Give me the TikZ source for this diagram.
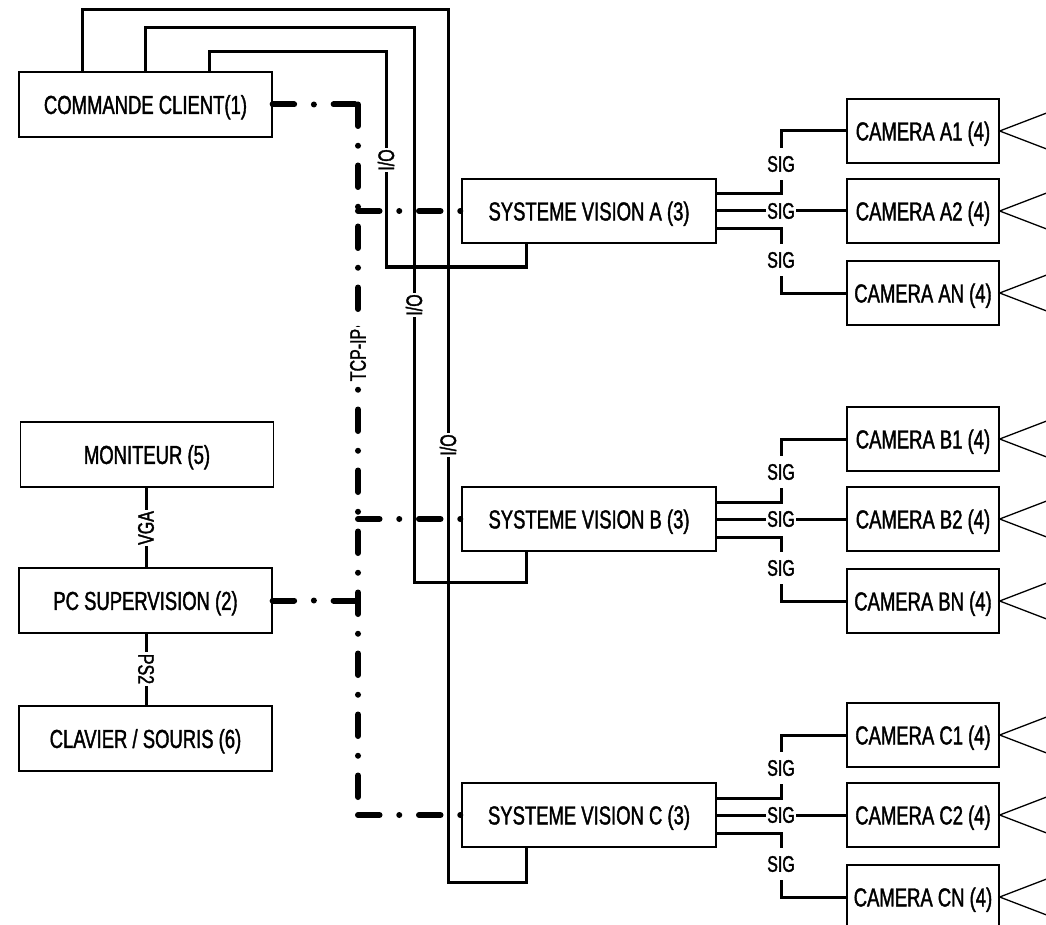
\documentclass[tikz,border=0pt]{standalone}
\usepackage{fontspec}
\setmainfont{Liberation Sans}[FakeStretch=0.71,FakeBold=1.5]
\usetikzlibrary{calc}
\begin{document}
\begin{tikzpicture}[x=1pt,y=-1pt,
  box/.style={draw, line width=1.3pt, minimum width=253pt, minimum height=65pt,
    inner sep=0pt, text depth=0pt, font=\fontsize{26}{30}\selectfont},
  svbox/.style={box, minimum width=254pt, minimum height=64pt},
  cambox/.style={box, minimum width=152pt, minimum height=64pt},
  wire/.style={line width=3pt},
  tcp/.style={line width=6pt, line cap=round, dash pattern=on 21.5pt off 19.75pt on 0pt off 19.75pt},
  lbl/.style={fill=white, inner xsep=1.5pt, inner ysep=0.5pt, font=\fontsize{22.5}{26}\selectfont},
  siglbl/.style={lbl, inner ysep=8pt},
  lens/.style={line width=1.3pt}]
\useasboundingbox (0,0) rectangle (1046,925);
\clip (0,0) rectangle (1046,925);

% left column
\node[box] (cmd)  at (145.5,104.5) {COMMANDE CLIENT(1)};
\node[box] (mon)  at (147,454.5) {MONITEUR (5)};
\node[box] (pc)   at (145.5,600.5) {PC SUPERVISION (2)};
\node[box] (clav) at (145.5,738.5) {CLAVIER / SOURIS (6)};

% systems and cameras
\coordinate (sigx) at (781,0);
\foreach \sys/\yc in {A/211,B/519,C/815}{
  \node[svbox] (sv\sys) at (589,\yc) {SYSTEME VISION \sys{} (3)};
  \node[cambox] (cam\sys1) at (923,\yc-80) {CAMERA \sys1 (4)};
  \node[cambox] (cam\sys2) at (923,\yc) {CAMERA \sys2 (4)};
  \node[cambox] (cam\sys3) at (923,\yc+82) {CAMERA \sys{}N (4)};
  \draw[wire] ([yshift=17pt]sv\sys.east) -| (sigx |- cam\sys1.west) -- (cam\sys1.west);
  \draw[wire] (sv\sys.east) -- (cam\sys2.west);
  \draw[wire] ([yshift=-18pt]sv\sys.east) -| (sigx |- cam\sys3.west) -- (cam\sys3.west);
  \node[siglbl] at (781,\yc-47) {SIG};
  \node[lbl] at (781,\yc) {SIG};
  \node[siglbl] at (781,\yc+49) {SIG};
  \foreach \k in {1,2,3}{
    \draw[lens] ($(cam\sys\k.east)+(60,-23)$) -- (cam\sys\k.east) -- ($(cam\sys\k.east)+(60,23)$);
  }
}

% I/O wires
\coordinate (ioA1) at (209,52);  \coordinate (ioA2) at (386,52);  \coordinate (ioA3) at (526,267);
\coordinate (ioB1) at (145,28);  \coordinate (ioB2) at (414,28);  \coordinate (ioB3) at (526,582);
\coordinate (ioC1) at (82,10);   \coordinate (ioC2) at (448,10);  \coordinate (ioC3) at (526,882);
\draw[wire] (cmd.north -| ioA1) -- (ioA1) -- (ioA2) |- (ioA3) -- (svA.south -| ioA3);
\draw[wire] (cmd.north -| ioB1) -- (ioB1) -- (ioB2) |- (ioB3) -- (svB.south -| ioB3);
\draw[wire] (cmd.north -| ioC1) -- (ioC1) -- (ioC2) |- (ioC3) -- (svC.south -| ioC3);
\node[lbl, rotate=90] (io1) at (386,160) {I/O};
\node[lbl, rotate=90] (io2) at (414,305) {I/O};
\node[lbl, rotate=90] (io3) at (448,445) {I/O};

% TCP-IP bus
\coordinate (bustop) at (358,104.5);
\coordinate (busbot) at (358,815);
\draw[tcp] (cmd.east) -- (bustop);
\draw[tcp] (bustop) -- (busbot);
\draw[tcp] (busbot) -- (svC.west);
\draw[tcp] (bustop |- svA.west) -- (svA.west);
\draw[tcp] (bustop |- svB.west) -- (svB.west);
\draw[tcp] (pc.east) -- (bustop |- pc.east);
\node[lbl, rotate=90] (tcplbl) at (358,355) {TCP-IP};

% PC peripherals
\coordinate (vx) at (146,0);
\draw[wire] (mon.south -| vx) -- (pc.north -| vx);
\draw[wire] (pc.south -| vx) -- (clav.north -| vx);
\node[lbl, rotate=90] (vga) at (146,528) {VGA};
\node[lbl, rotate=-90] (ps2) at (146,669) {PS2};
\end{tikzpicture}
\end{document}
